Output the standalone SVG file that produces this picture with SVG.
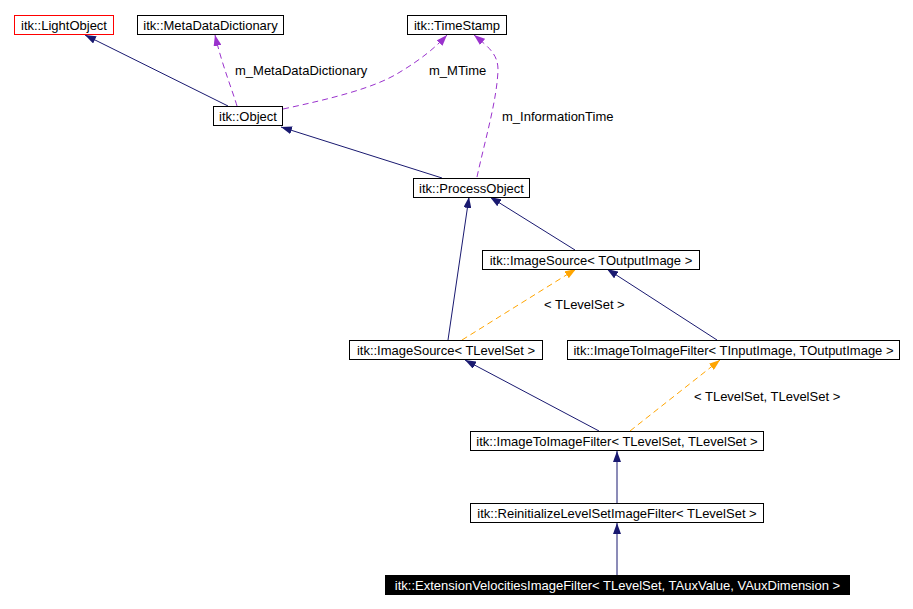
<svg xmlns="http://www.w3.org/2000/svg" width="913" height="609" viewBox="0 0 913 609">
<defs>
<style>
.box{fill:#ffffff;stroke:#000000;stroke-width:1}
.t{font-family:"Liberation Sans",Arial,sans-serif;font-size:13px;fill:#000000;text-anchor:middle}
.l{font-family:"Liberation Sans",Arial,sans-serif;font-size:13px;fill:#000000}
.inh{fill:none;stroke:#191970;stroke-width:1;marker-end:url(#an)}
.use{fill:none;stroke:#9a32cd;stroke-width:1;stroke-dasharray:6,4;marker-end:url(#ap)}
.tpl{fill:none;stroke:#ffa500;stroke-width:1;stroke-dasharray:6,4;marker-end:url(#ao)}
</style>
<marker id="an" markerUnits="userSpaceOnUse" markerWidth="11" markerHeight="8" refX="11" refY="4" orient="auto"><path d="M0,0 L11,4 L0,8 z" fill="#191970"/></marker>
<marker id="ap" markerUnits="userSpaceOnUse" markerWidth="11" markerHeight="8" refX="11" refY="4" orient="auto"><path d="M0,0 L11,4 L0,8 z" fill="#9a32cd"/></marker>
<marker id="ao" markerUnits="userSpaceOnUse" markerWidth="11" markerHeight="8" refX="11" refY="4" orient="auto"><path d="M0,0 L11,4 L0,8 z" fill="#ffa500"/></marker>
</defs>
<rect width="913" height="609" fill="#ffffff"/>
<g id="connectors">
<path class="inh" d="M228,106 L85,35"/>
<path class="use" d="M237,106 C233,92 222,65 215,35"/>
<path class="use" d="M283,109 C330,99 375,88 400,72 C420,60 435,48 447,35"/>
<path class="inh" d="M442,178 L281,127"/>
<path class="use" d="M477,177 C485,140 497,100 498,70 C498,55 490,48 474,35"/>
<path class="inh" d="M575,250 L490,197"/>
<path class="inh" d="M448,340 L469,197"/>
<path class="tpl" d="M462,340 L576,269"/>
<path class="inh" d="M717,340 L607,269"/>
<path class="inh" d="M599,431 L465,360"/>
<path class="tpl" d="M630,431 L720,360"/>
<path class="inh" d="M617,503 L617,451"/>
<path class="inh" d="M617,575 L617,523"/>
<text class="l" x="235" y="75">m_MetaDataDictionary</text>
<text class="l" x="429" y="75">m_MTime</text>
<text class="l" x="502" y="121">m_InformationTime</text>
<text class="l" x="544" y="309">&lt; TLevelSet &gt;</text>
<text class="l" x="694" y="401">&lt; TLevelSet, TLevelSet &gt;</text>
</g>
<g id="LightObject"><rect x="14.5" y="15.5" width="99" height="19" fill="#ffffff" stroke="#ff0000"/><text class="t" x="64" y="29.5">itk::LightObject</text></g>
<g id="MetaDataDictionary"><rect class="box" x="137.5" y="15.5" width="146" height="19"/><text class="t" x="210.5" y="29.5">itk::MetaDataDictionary</text></g>
<g id="TimeStamp"><rect class="box" x="407.5" y="15.5" width="99" height="19"/><text class="t" x="457" y="29.5">itk::TimeStamp</text></g>
<g id="Object"><rect class="box" x="213.5" y="106.5" width="69" height="19"/><text class="t" x="248" y="120.5">itk::Object</text></g>
<g id="ProcessObject"><rect class="box" x="413.5" y="178.5" width="116" height="19"/><text class="t" x="471.5" y="192.5">itk::ProcessObject</text></g>
<g id="ImageSourceOut"><rect class="box" x="482.5" y="250.5" width="217" height="19"/><text class="t" x="591" y="264.5">itk::ImageSource&lt; TOutputImage &gt;</text></g>
<g id="ImageSourceLS"><rect class="box" x="349.5" y="340.5" width="193" height="19"/><text class="t" x="446" y="354.5">itk::ImageSource&lt; TLevelSet &gt;</text></g>
<g id="ImageToImageFilterInOut"><rect class="box" x="567.5" y="340.5" width="332" height="19"/><text class="t" x="733.5" y="354.5">itk::ImageToImageFilter&lt; TInputImage, TOutputImage &gt;</text></g>
<g id="ImageToImageFilterLS"><rect class="box" x="470.5" y="431.5" width="293" height="19"/><text class="t" x="617" y="445.5">itk::ImageToImageFilter&lt; TLevelSet, TLevelSet &gt;</text></g>
<g id="Reinitialize"><rect class="box" x="470.5" y="503.5" width="293" height="19"/><text class="t" x="617" y="517.5">itk::ReinitializeLevelSetImageFilter&lt; TLevelSet &gt;</text></g>
<g id="Extension"><rect x="385" y="575" width="465" height="20" fill="#000000"/><text class="t" x="617.5" y="589.5" fill="#ffffff" style="fill:#ffffff">itk::ExtensionVelocitiesImageFilter&lt; TLevelSet, TAuxValue, VAuxDimension &gt;</text></g>
</svg>
